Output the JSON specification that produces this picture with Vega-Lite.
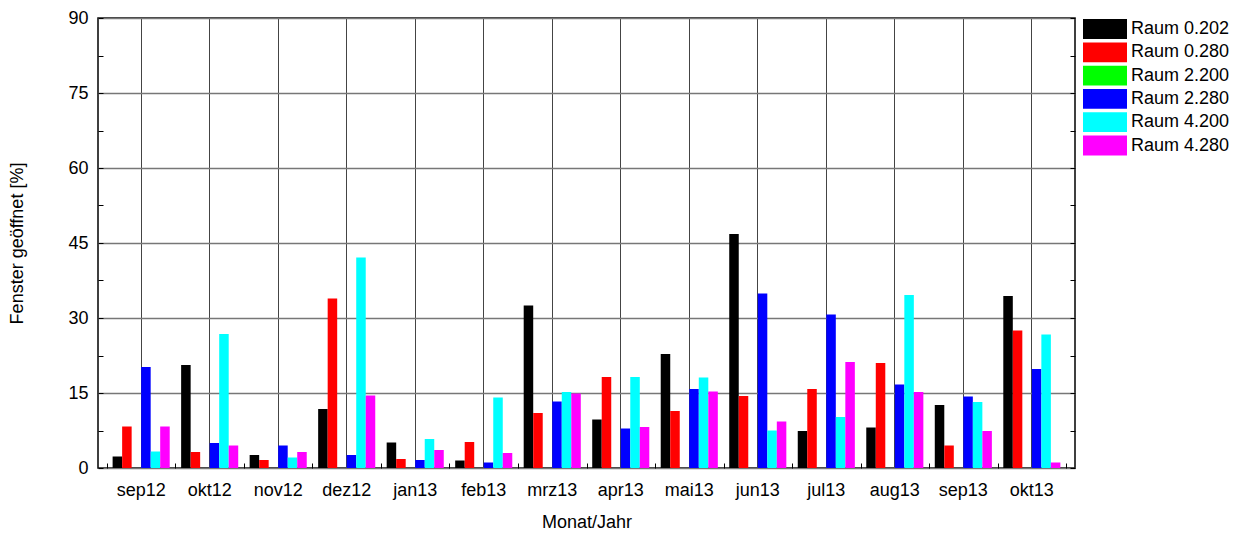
{
  "$schema": "https://vega.github.io/schema/vega-lite/v6.json",
  "width": 977,
  "height": 450,
  "autosize": {"type": "none"},
  "padding": {"left": 98, "top": 18, "right": 167, "bottom": 66},
  "background": "white",
  "config": {
    "view": {"stroke": "#000", "strokeWidth": 1.5},
    "font": "Liberation Sans",
    "axis": {"labelFont": "Liberation Sans", "titleFont": "Liberation Sans", "labelColor": "#000", "titleColor": "#000", "titleFontWeight": "normal", "labelFontSize": 18, "titleFontSize": 18},
    "legend": {"labelFont": "Liberation Sans", "labelFontSize": 18, "labelColor": "#000"}
  },
  "data": {"values": [
    {"Monat": "sep12", "Raum": "Raum 0.202", "v": 2.3},
    {"Monat": "sep12", "Raum": "Raum 0.280", "v": 8.3},
    {"Monat": "sep12", "Raum": "Raum 2.200", "v": 0},
    {"Monat": "sep12", "Raum": "Raum 2.280", "v": 20.2},
    {"Monat": "sep12", "Raum": "Raum 4.200", "v": 3.3},
    {"Monat": "sep12", "Raum": "Raum 4.280", "v": 8.3},
    {"Monat": "okt12", "Raum": "Raum 0.202", "v": 20.6},
    {"Monat": "okt12", "Raum": "Raum 0.280", "v": 3.2},
    {"Monat": "okt12", "Raum": "Raum 2.200", "v": 0},
    {"Monat": "okt12", "Raum": "Raum 2.280", "v": 5.0},
    {"Monat": "okt12", "Raum": "Raum 4.200", "v": 26.8},
    {"Monat": "okt12", "Raum": "Raum 4.280", "v": 4.5},
    {"Monat": "nov12", "Raum": "Raum 0.202", "v": 2.6},
    {"Monat": "nov12", "Raum": "Raum 0.280", "v": 1.6},
    {"Monat": "nov12", "Raum": "Raum 2.200", "v": 0},
    {"Monat": "nov12", "Raum": "Raum 2.280", "v": 4.5},
    {"Monat": "nov12", "Raum": "Raum 4.200", "v": 2.1},
    {"Monat": "nov12", "Raum": "Raum 4.280", "v": 3.2},
    {"Monat": "dez12", "Raum": "Raum 0.202", "v": 11.8},
    {"Monat": "dez12", "Raum": "Raum 0.280", "v": 33.9},
    {"Monat": "dez12", "Raum": "Raum 2.200", "v": 0},
    {"Monat": "dez12", "Raum": "Raum 2.280", "v": 2.6},
    {"Monat": "dez12", "Raum": "Raum 4.200", "v": 42.1},
    {"Monat": "dez12", "Raum": "Raum 4.280", "v": 14.5},
    {"Monat": "jan13", "Raum": "Raum 0.202", "v": 5.1},
    {"Monat": "jan13", "Raum": "Raum 0.280", "v": 1.8},
    {"Monat": "jan13", "Raum": "Raum 2.200", "v": 0},
    {"Monat": "jan13", "Raum": "Raum 2.280", "v": 1.6},
    {"Monat": "jan13", "Raum": "Raum 4.200", "v": 5.8},
    {"Monat": "jan13", "Raum": "Raum 4.280", "v": 3.6},
    {"Monat": "feb13", "Raum": "Raum 0.202", "v": 1.5},
    {"Monat": "feb13", "Raum": "Raum 0.280", "v": 5.2},
    {"Monat": "feb13", "Raum": "Raum 2.200", "v": 0},
    {"Monat": "feb13", "Raum": "Raum 2.280", "v": 1.1},
    {"Monat": "feb13", "Raum": "Raum 4.200", "v": 14.1},
    {"Monat": "feb13", "Raum": "Raum 4.280", "v": 3.0},
    {"Monat": "mrz13", "Raum": "Raum 0.202", "v": 32.5},
    {"Monat": "mrz13", "Raum": "Raum 0.280", "v": 11.0},
    {"Monat": "mrz13", "Raum": "Raum 2.200", "v": 0},
    {"Monat": "mrz13", "Raum": "Raum 2.280", "v": 13.3},
    {"Monat": "mrz13", "Raum": "Raum 4.200", "v": 15.2},
    {"Monat": "mrz13", "Raum": "Raum 4.280", "v": 14.9},
    {"Monat": "apr13", "Raum": "Raum 0.202", "v": 9.7},
    {"Monat": "apr13", "Raum": "Raum 0.280", "v": 18.2},
    {"Monat": "apr13", "Raum": "Raum 2.200", "v": 0},
    {"Monat": "apr13", "Raum": "Raum 2.280", "v": 7.9},
    {"Monat": "apr13", "Raum": "Raum 4.200", "v": 18.2},
    {"Monat": "apr13", "Raum": "Raum 4.280", "v": 8.2},
    {"Monat": "mai13", "Raum": "Raum 0.202", "v": 22.8},
    {"Monat": "mai13", "Raum": "Raum 0.280", "v": 11.4},
    {"Monat": "mai13", "Raum": "Raum 2.200", "v": 0},
    {"Monat": "mai13", "Raum": "Raum 2.280", "v": 15.8},
    {"Monat": "mai13", "Raum": "Raum 4.200", "v": 18.1},
    {"Monat": "mai13", "Raum": "Raum 4.280", "v": 15.3},
    {"Monat": "jun13", "Raum": "Raum 0.202", "v": 46.8},
    {"Monat": "jun13", "Raum": "Raum 0.280", "v": 14.4},
    {"Monat": "jun13", "Raum": "Raum 2.200", "v": 0},
    {"Monat": "jun13", "Raum": "Raum 2.280", "v": 34.9},
    {"Monat": "jun13", "Raum": "Raum 4.200", "v": 7.5},
    {"Monat": "jun13", "Raum": "Raum 4.280", "v": 9.3},
    {"Monat": "jul13", "Raum": "Raum 0.202", "v": 7.4},
    {"Monat": "jul13", "Raum": "Raum 0.280", "v": 15.8},
    {"Monat": "jul13", "Raum": "Raum 2.200", "v": 0},
    {"Monat": "jul13", "Raum": "Raum 2.280", "v": 30.7},
    {"Monat": "jul13", "Raum": "Raum 4.200", "v": 10.2},
    {"Monat": "jul13", "Raum": "Raum 4.280", "v": 21.2},
    {"Monat": "aug13", "Raum": "Raum 0.202", "v": 8.1},
    {"Monat": "aug13", "Raum": "Raum 0.280", "v": 21.0},
    {"Monat": "aug13", "Raum": "Raum 2.200", "v": 0},
    {"Monat": "aug13", "Raum": "Raum 2.280", "v": 16.7},
    {"Monat": "aug13", "Raum": "Raum 4.200", "v": 34.6},
    {"Monat": "aug13", "Raum": "Raum 4.280", "v": 15.2},
    {"Monat": "sep13", "Raum": "Raum 0.202", "v": 12.6},
    {"Monat": "sep13", "Raum": "Raum 0.280", "v": 4.5},
    {"Monat": "sep13", "Raum": "Raum 2.200", "v": 0},
    {"Monat": "sep13", "Raum": "Raum 2.280", "v": 14.3},
    {"Monat": "sep13", "Raum": "Raum 4.200", "v": 13.2},
    {"Monat": "sep13", "Raum": "Raum 4.280", "v": 7.4},
    {"Monat": "okt13", "Raum": "Raum 0.202", "v": 34.4},
    {"Monat": "okt13", "Raum": "Raum 0.280", "v": 27.5},
    {"Monat": "okt13", "Raum": "Raum 2.200", "v": 0},
    {"Monat": "okt13", "Raum": "Raum 2.280", "v": 19.8},
    {"Monat": "okt13", "Raum": "Raum 4.200", "v": 26.7},
    {"Monat": "okt13", "Raum": "Raum 4.280", "v": 1.1}
  ]},
  "resolve": {"axis": {"x": "independent", "y": "independent"}},
  "layer": [
    {
      "mark": {"type": "bar", "opacity": 0},
      "encoding": {
        "x": {"field": "Monat", "type": "nominal", "sort": null,
          "axis": {"orient": "bottom", "labels": false, "domain": false, "grid": false, "tickBand": "extent", "tickSize": -5, "tickColor": "#000", "title": null}},
        "y": {"field": "v", "type": "quantitative", "stack": null,
          "axis": {"orient": "right", "labels": false, "domain": false, "grid": false, "values": [0, 7.5, 15, 22.5, 30, 37.5, 45, 52.5, 60, 67.5, 75, 82.5, 90], "tickSize": -5, "tickColor": "#000", "title": null}}
      }
    },
    {
      "mark": {"type": "bar"},
      "encoding": {
        "x": {"field": "Monat", "type": "nominal", "sort": null,
          "scale": {"paddingInner": 0, "paddingOuter": 0.13},
          "axis": {"orient": "bottom", "title": "Monat/Jahr", "labelAngle": 0, "domain": false, "ticks": false, "labelPadding": 13, "titlePadding": 14, "grid": true, "gridColor": "#444", "gridWidth": 1, "gridOpacity": 1}},
        "xOffset": {"field": "Raum", "type": "nominal", "scale": {"paddingInner": 0, "paddingOuter": 0.6}},
        "y": {"field": "v", "type": "quantitative",
          "scale": {"domain": [0, 90], "nice": false, "zero": true},
          "axis": {"orient": "left", "title": "Fenster geöffnet [%]", "domain": false,
            "values": [0, 7.5, 15, 22.5, 30, 37.5, 45, 52.5, 60, 67.5, 75, 82.5, 90],
            "labelExpr": "datum.value % 15 === 0 ? datum.label : ''",
            "tickSize": -5, "tickColor": "#000", "labelPadding": 15, "titlePadding": 41,
            "grid": true, "gridColor": "#777", "gridWidth": 1.3,
            "gridOpacity": {"condition": {"test": "datum.value % 15 === 0", "value": 1}, "value": 0}}},
        "color": {"field": "Raum", "type": "nominal",
          "scale": {"domain": ["Raum 0.202", "Raum 0.280", "Raum 2.200", "Raum 2.280", "Raum 4.200", "Raum 4.280"],
                    "range": ["#000000", "#ff0000", "#00ff00", "#0000ff", "#00ffff", "#ff00ff"]},
          "legend": {"title": null, "orient": "none", "legendX": 996, "legendY": 0,
            "symbolType": "M-2,-0.9H2V0.9H-2Z", "symbolSize": 484, "symbolStrokeWidth": 0, "symbolOpacity": 1,
            "labelOffset": 15, "rowPadding": 2.3}}
      }
    }
  ]
}
